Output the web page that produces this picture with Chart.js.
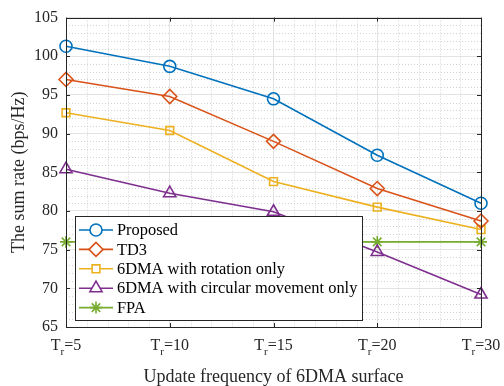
<!DOCTYPE html>
<html><head><meta charset="utf-8">
<script src="https://cdn.jsdelivr.net/npm/chart.js@4.4.0/dist/chart.umd.min.js"></script>
<style>html,body{margin:0;padding:0;background:#fff}#wrap{width:504px;height:386px}</style>
</head><body><div id="wrap"><canvas id="c" width="504" height="386"></canvas></div>
<script>
const categories = ['5', '10', '15', '20', '30'];
const proposed   = [101.3, 98.7, 94.5, 87.2, 81.0];
const td3        = [97.0, 94.8, 89.0, 82.9, 78.7];
const rotation   = [92.7, 90.4, 83.8, 80.5, 77.6];
const circular   = [85.4, 82.3, 79.9, 74.7, 69.2];
const fpa        = [76.0, 76.0, 76.0, 76.0, 76.0];
const seriesNames = ['Proposed', 'TD3', '6DMA with rotation only', '6DMA with circular movement only', 'FPA'];
const yTicks = [65, 70, 75, 80, 85, 90, 95, 100, 105];

const FONT = '"Liberation Serif", "Times New Roman", serif';
const AX = '#262626';
const colors = ['#0072BD', '#D95319', '#EDB120', '#7E2F8E', '#77AC30'];
const styles = [
  {ps: 'circle', r: 6},
  {ps: 'rectRot', r: 7},
  {ps: 'rect', r: 5.5},
  {ps: 'triangle', r: 7},
  {ps: 'star', r: 6}
];
const seriesData = [proposed, td3, rotation, circular, fpa];

const datasets = seriesData.map((d, i) => ({
  label: seriesNames[i],
  data: d,
  borderColor: colors[i],
  backgroundColor: 'rgba(0,0,0,0)',
  borderWidth: 1.6,
  pointStyle: styles[i].ps,
  pointRadius: styles[i].r,
  pointBorderWidth: 1.6,
  pointBackgroundColor: 'rgba(0,0,0,0)',
  pointBorderColor: colors[i],
  tension: 0,
  fill: false
}));

const decor = {
  id: 'decor',
  beforeDatasetsDraw(chart) {
    const {ctx, chartArea: a, scales: {x, y}} = chart;
    ctx.save();
    ctx.strokeStyle = '#d2d2d2';
    ctx.lineWidth = 1;
    ctx.setLineDash([1, 2]);
    for (let v = 65; v <= 105; v++) {
      if (v % 5 === 0) continue;
      const py = Math.round(y.getPixelForValue(v)) + 0.5;
      ctx.beginPath(); ctx.moveTo(a.left, py); ctx.lineTo(a.right, py); ctx.stroke();
    }
    for (let i = 0; i < categories.length - 1; i++) {
      const p0 = x.getPixelForTick(i), p1 = x.getPixelForTick(i + 1);
      for (let k = 1; k < 5; k++) {
        const px = Math.round(p0 + (p1 - p0) * k / 5) + 0.5;
        ctx.beginPath(); ctx.moveTo(px, a.top); ctx.lineTo(px, a.bottom); ctx.stroke();
      }
    }
    ctx.restore();
  },
  afterDraw(chart) {
    const {ctx, chartArea: a, scales: {x, y}} = chart;
    ctx.save();
    ctx.strokeStyle = AX; ctx.lineWidth = 1; ctx.setLineDash([]);
    ctx.strokeRect(Math.round(a.left) + 0.5, Math.round(a.top) + 0.5, Math.round(a.right - a.left), Math.round(a.bottom - a.top));
    const tl = 4;
    yTicks.forEach(v => {
      const py = Math.round(y.getPixelForValue(v)) + 0.5;
      ctx.beginPath();
      ctx.moveTo(a.left, py); ctx.lineTo(a.left + tl, py);
      ctx.moveTo(a.right, py); ctx.lineTo(a.right - tl, py);
      ctx.stroke();
    });
    categories.forEach((c, i) => {
      const px = Math.round(x.getPixelForTick(i)) + 0.5;
      ctx.beginPath();
      ctx.moveTo(px, a.bottom); ctx.lineTo(px, a.bottom - tl);
      ctx.moveTo(px, a.top); ctx.lineTo(px, a.top + tl);
      ctx.stroke();
    });
    ctx.fillStyle = AX;
    ctx.textBaseline = 'alphabetic';
    ctx.textAlign = 'left';
    const big = '16px ' + FONT, small = '11px ' + FONT;
    categories.forEach((c, i) => {
      const px = x.getPixelForTick(i);
      ctx.font = big; const wT = ctx.measureText('T').width;
      const wRest = ctx.measureText('=' + c).width;
      ctx.font = small; const wr = ctx.measureText('r').width;
      const total = wT + wr + wRest;
      let sx = px - total / 2;
      const base = 350;
      ctx.font = big; ctx.fillText('T', sx, base); sx += wT;
      ctx.font = small; ctx.fillText('r', sx, base + 5); sx += wr;
      ctx.font = big; ctx.fillText('=' + c, sx, base);
    });
    const lx = 75.5, ly = 216.5, lw = 287, lh = 104;
    ctx.fillStyle = '#ffffff';
    ctx.fillRect(lx, ly, lw, lh);
    ctx.strokeStyle = AX; ctx.lineWidth = 1;
    ctx.strokeRect(lx, ly, lw, lh);
    chart.data.datasets.forEach((ds, i) => {
      const cy = 230 + i * 19.4;
      ctx.strokeStyle = ds.borderColor; ctx.lineWidth = 1.6;
      ctx.beginPath(); ctx.moveTo(79, cy); ctx.lineTo(113, cy); ctx.stroke();
      ctx.fillStyle = '#ffffff';
      Chart.helpers.drawPoint(ctx, {pointStyle: ds.pointStyle, radius: ds.pointRadius, borderWidth: 1.6, rotation: 0}, 96, cy);
      ctx.fillStyle = '#000';
      ctx.font = '16.4px ' + FONT;
      ctx.textBaseline = 'middle';
      ctx.fillText(ds.label, 117, cy + 1);
    });
    ctx.restore();
  }
};

new Chart(document.getElementById('c'), {
  type: 'line',
  data: {labels: categories, datasets},
  plugins: [decor],
  options: {
    responsive: false,
    animation: false,
    devicePixelRatio: 1,
    layout: {padding: {left: 8, right: 23, top: 15, bottom: 0}},
    plugins: {legend: {display: false}, tooltip: {enabled: false}},
    elements: {point: {hitRadius: 0}},
    scales: {
      x: {
        type: 'category',
        offset: false,
        grid: {color: '#e3e3e3', lineWidth: 1, drawTicks: false, offset: false},
        border: {display: false},
        ticks: {display: false},
        title: {display: true, text: 'Update frequency of 6DMA surface', color: AX,
                font: {family: FONT, size: 18}, padding: {top: 0, bottom: -2}},
        afterFit(s) { s.height = 59; }
      },
      y: {
        min: 65, max: 105,
        afterBuildTicks(s) { s.ticks = yTicks.map(v => ({value: v})); },
        grid: {color: '#e3e3e3', lineWidth: 1, drawTicks: false},
        border: {display: false},
        ticks: {color: AX, font: {family: FONT, size: 16}, padding: 8},
        title: {display: true, text: 'The sum rate (bps/Hz)', color: AX,
                font: {family: FONT, size: 18}, padding: {top: 0, bottom: 0}},
        afterFit(s) { s.width = 58; }
      }
    }
  }
});
</script></body></html>
